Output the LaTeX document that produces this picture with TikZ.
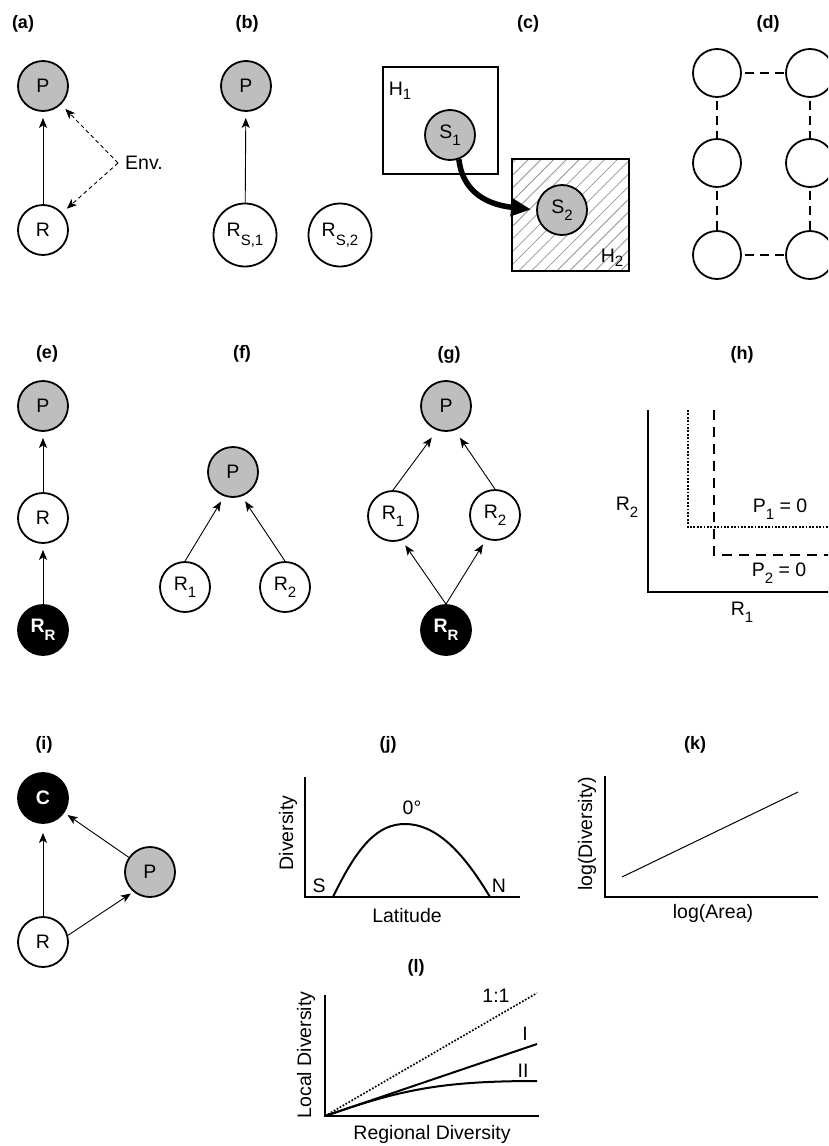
\documentclass[tikz,border=0pt]{standalone}
\usepackage{fontspec}
\setmainfont{Liberation Sans}
\usetikzlibrary{arrows.meta, patterns.meta}

\definecolor{predgray}{RGB}{190, 190, 190}
\definecolor{hatchgray}{RGB}{150, 150, 150}

\newcommand{\lowsub}[2][7pt]{\raisebox{-#1}{\fontsize{15}{15}\selectfont #2}}

\tikzset{
	species/.style={circle, draw, line width=1.8pt, minimum size=50pt, inner sep=0pt, font=\fontsize{19.5}{20}\selectfont},
	consumer/.style={species, fill=predgray},
	resource/.style={species, fill=white},
	basal/.style={species, fill=black, text=white, font=\bfseries\fontsize{19.5}{20}\selectfont},
	patch/.style={species, minimum size=48pt},
	panel/.style={font=\bfseries\fontsize{18}{18}\selectfont, inner sep=0pt},
	txt/.style={font=\fontsize{19.5}{20}\selectfont, inner sep=0pt, anchor=base},
	link/.style={-{Stealth[length=10pt, width=8pt, inset=2.5pt]}, line width=0.9pt, shorten >=6pt},
	envlink/.style={link, dash pattern=on 4pt off 3pt},
	patchlink/.style={line width=1.8pt, dash pattern=on 9pt off 6pt, dash phase=-3pt},
	axis/.style={line width=1.1pt},
	dotline/.style={line width=1.7pt, dash pattern=on 1.7pt off 1.7pt}
}

\begin{document}
\begin{tikzpicture}[x=1pt, y=-1pt]
			\useasboundingbox (0, 0) rectangle (828, 1146);
			\clip (0, 0) rectangle (828, 1146);
			
			\node[panel] (la) at (23, 24) {(a)};
			\node[consumer] (Pa) at (43, 86) {P};
			\node[resource] (Ra) at (43, 230) {R};
			\node[txt, anchor=west, inner xsep=7pt] (env) at (118, 163) {Env.};
			\draw[link] (Ra) -- (Pa);
			\draw[envlink] (env.west) -- (Pa);
			\draw[envlink] (env.west) -- (Ra);
			
			\node[panel] (lb) at (247, 24) {(b)};
			\node[consumer] (Pb) at (246, 86) {P};
			\node[resource, minimum size=63pt] (Rb1) at (245, 235) {R\lowsub[9pt]{S,1}};
			\node[resource, minimum size=63pt] (Rb2) at (340, 235) {R\lowsub[9pt]{S,2}};
			\draw[link] (Rb1) -- (Pb);
			
			\node[panel] (lc) at (528, 24) {(c)};
			\draw[line width=1.8pt] (383, 67) rectangle (498, 174);
			\draw[line width=1.8pt, pattern={Lines[angle=45, distance=9pt, line width=0.8pt]}, pattern color=hatchgray] (512, 159) rectangle (629, 271);
			\node[txt] (H1) at (400, 95) {H\lowsub[4pt]{1}};
			\node[txt] (H2) at (612, 262) {H\lowsub[4pt]{2}};
			\node[consumer] (S1) at (450, 135) {S\lowsub{1}};
			\node[consumer] (S2) at (562, 210) {S\lowsub{2}};
			\draw[-{Triangle[length=20pt, width=17pt]}, line width=5.5pt, shorten >=5pt] (S1.290) .. controls (462, 188) and (482, 204) .. (S2.west);
			
			\node[panel] (ld) at (768, 24) {(d)};
			\node[patch] (d11) at (717, 73) {};
			\node[patch] (d12) at (717, 163) {};
			\node[patch] (d13) at (717, 255) {};
			\node[patch] (d21) at (810, 73) {};
			\node[patch] (d22) at (810, 163) {};
			\node[patch] (d23) at (810, 255) {};
			\draw[patchlink] (d11) -- (d21);
			\draw[patchlink] (d13) -- (d23);
			\draw[patchlink] (d11) -- (d12);
			\draw[patchlink] (d12) -- (d13);
			\draw[patchlink] (d21) -- (d22);
			\draw[patchlink] (d22) -- (d23);
			
			\node[panel] (le) at (47, 354) {(e)};
			\node[consumer] (Pe) at (43, 406) {P};
			\node[resource] (Re) at (43, 518) {R};
			\node[basal] (RRe) at (43, 630) {R\lowsub[8pt]{R}};
			\draw[link] (Re) -- (Pe);
			\draw[link] (RRe) -- (Re);
			
			\node[panel] (lf) at (242, 354) {(f)};
			\node[consumer] (Pf) at (233, 472) {P};
			\node[resource] (R1f) at (185, 587) {R\lowsub{1}};
			\node[resource] (R2f) at (285, 587) {R\lowsub{2}};
			\draw[link] (R1f.north) -- (Pf.250);
			\draw[link] (R2f.north) -- (Pf.290);
			
			\node[panel] (lg) at (449, 355) {(g)};
			\node[consumer] (Pg) at (446, 406) {P};
			\node[resource] (R1g) at (393, 516) {R\lowsub{1}};
			\node[resource] (R2g) at (495, 515) {R\lowsub{2}};
			\node[basal] (RRg) at (446, 630) {R\lowsub[8pt]{R}};
			\draw[link, shorten >=9pt] (R1g.north) -- (Pg.250);
			\draw[link, shorten >=9pt] (R2g.north) -- (Pg.290);
			\draw[link] (RRg.north) -- (R1g.290);
			\draw[link] (RRg.north) -- (R2g.250);
			
			\node[panel] (lh) at (742, 355) {(h)};
			\draw[line width=1.8pt] (648, 410) -- (648, 592) -- (840, 592);
			\draw[dotline] (688, 410) -- (688, 527) -- (840, 527);
			\draw[line width=1.8pt, dash pattern=on 10pt off 7pt] (714, 410) -- (714, 555) -- (840, 555);
			\node[txt] (R2h) at (627, 510) {R\lowsub{2}};
			\node[txt] (R1h) at (742, 615) {R\lowsub{1}};
			\node[txt] (P1h) at (780, 512) {P\lowsub{1} = 0};
			\node[txt] (P2h) at (779, 576) {P\lowsub{2} = 0};
			
			\node[panel] (li) at (44, 745) {(i)};
			\node[basal] (Ci) at (43, 798) {C};
			\node[consumer] (Pi) at (150, 872) {P};
			\node[resource] (Ri) at (43, 942) {R};
			\draw[link, shorten >=9pt] (Ri) -- (Ci);
			\draw[link, shorten >=4pt] (Pi) -- (Ci);
			\draw[link, shorten >=3pt] (Ri.15) -- (Pi.230);
			
			\node[panel] (lj) at (388, 745) {(j)};
			\draw[axis] (305, 777) -- (305, 897) -- (520, 897);
			\draw[line width=2pt] (333, 897) .. controls (358, 845) and (378, 824) .. (405, 824) .. controls (435, 824) and (462, 850) .. (490, 897);
			\node[txt, rotate=90] (divj) at (293, 833) {Diversity};
			\node[txt] (latj) at (407, 922) {Latitude};
			\node[txt] (Sj) at (319, 892) {S};
			\node[txt] (Nj) at (499, 892) {N};
			\node[txt] (eqj) at (412, 814) {0°};
			
			\node[panel] (lk) at (695, 745) {(k)};
			\draw[axis] (605, 776) -- (605, 897) -- (818, 897);
			\draw[line width=1pt] (622, 877) -- (798, 792);
			\node[txt, rotate=90] (divk) at (592, 834) {log(Diversity)};
			\node[txt] (areak) at (713, 918) {log(Area)};
			
			\node[panel] (ll) at (416, 968) {(l)};
			\draw[axis] (325, 995) -- (325, 1116) -- (539, 1116);
			\draw[dotline] (325, 1116) -- (537, 993);
			\draw[line width=2pt] (325, 1116) -- (537, 1044);
			\draw[line width=2pt] (325, 1116) .. controls (400, 1090) and (440, 1081) .. (537, 1081);
			\node[txt] (onel) at (496, 1002) {1:1};
			\node[txt] (Il) at (525, 1040) {I};
			\node[txt] (IIl) at (523, 1077) {II};
			\node[txt, rotate=90] (locl) at (311, 1055) {Local Diversity};
			\node[txt] (regl) at (432, 1139) {Regional Diversity};
		\end{tikzpicture}
\end{document}
